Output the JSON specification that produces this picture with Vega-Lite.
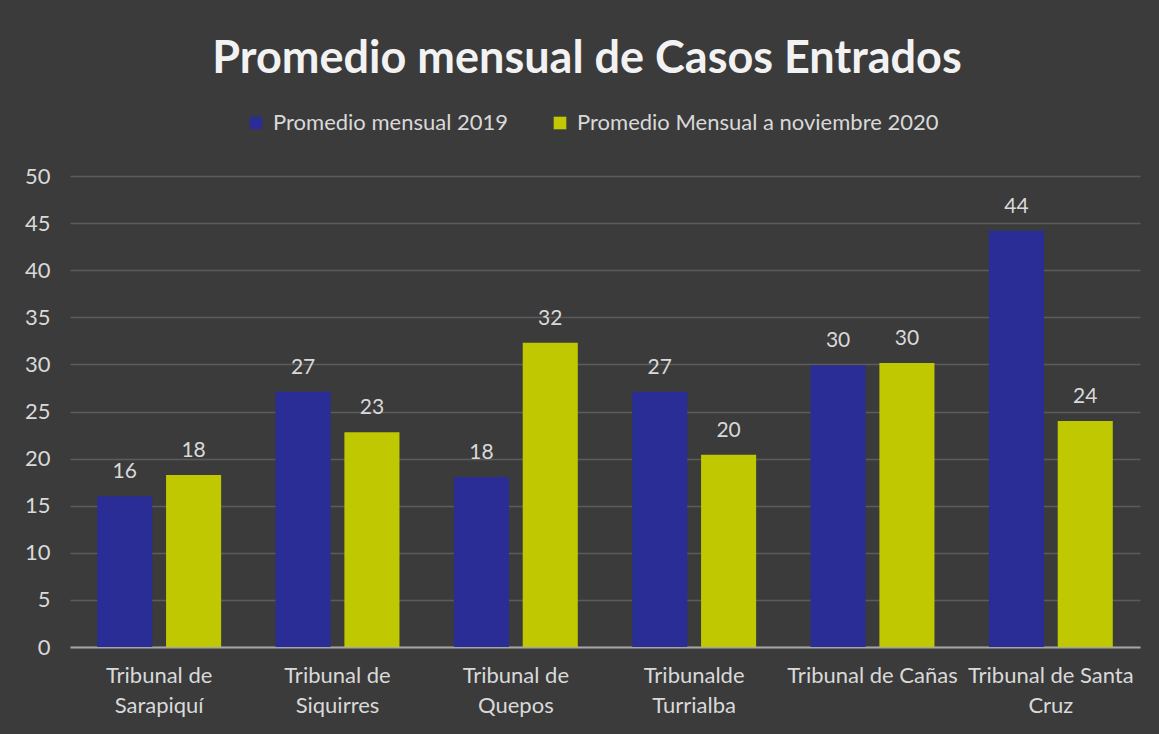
{
  "$schema": "https://vega.github.io/schema/vega-lite/v6.json",
  "width": 1070,
  "height": 471,
  "autosize": {"type": "none"},
  "padding": {"left": 70, "top": 176, "right": 19, "bottom": 87},
  "background": "#3b3b3b",
  "title": {
    "text": "Promedio mensual de Casos Entrados",
    "anchor": "middle",
    "frame": "group",
    "fontSize": 45,
    "font": "Lato",
    "fontWeight": "bold",
    "color": "#f2f2f2",
    "dx": -18,
    "offset": 30
  },
  "data": {
    "values": [
      {"tribunal": "Tribunal de|Sarapiquí", "serie": "Promedio mensual 2019", "valor": 16.0},
      {"tribunal": "Tribunal de|Sarapiquí", "serie": "Promedio Mensual a noviembre 2020", "valor": 18.26},
      {"tribunal": "Tribunal de|Siquirres", "serie": "Promedio mensual 2019", "valor": 27.1},
      {"tribunal": "Tribunal de|Siquirres", "serie": "Promedio Mensual a noviembre 2020", "valor": 22.8},
      {"tribunal": "Tribunal de|Quepos", "serie": "Promedio mensual 2019", "valor": 18.05},
      {"tribunal": "Tribunal de|Quepos", "serie": "Promedio Mensual a noviembre 2020", "valor": 32.3},
      {"tribunal": "Tribunalde|Turrialba", "serie": "Promedio mensual 2019", "valor": 27.1},
      {"tribunal": "Tribunalde|Turrialba", "serie": "Promedio Mensual a noviembre 2020", "valor": 20.4},
      {"tribunal": "Tribunal de Cañas", "serie": "Promedio mensual 2019", "valor": 29.9},
      {"tribunal": "Tribunal de Cañas", "serie": "Promedio Mensual a noviembre 2020", "valor": 30.15},
      {"tribunal": "Tribunal de Santa|Cruz", "serie": "Promedio mensual 2019", "valor": 44.2},
      {"tribunal": "Tribunal de Santa|Cruz", "serie": "Promedio Mensual a noviembre 2020", "valor": 24.0}
    ]
  },
  "encoding": {
    "x": {
      "field": "tribunal",
      "type": "nominal",
      "sort": null,
      "scale": {"paddingInner": 0.305, "paddingOuter": 0.1525},
      "axis": {
        "title": null,
        "labelAngle": 0,
        "labelExpr": "split(datum.label, '|')",
        "labelFont": "Lato",
        "labelFontSize": 22,
        "labelColor": "#d9d9d9",
        "labelLineHeight": 30,
        "labelPadding": 18,
        "labelLimit": 300,
        "ticks": false,
        "domainColor": "#a6a6a6",
        "domainWidth": 2,
        "grid": false
      }
    },
    "xOffset": {
      "field": "serie",
      "type": "nominal",
      "sort": ["Promedio mensual 2019", "Promedio Mensual a noviembre 2020"],
      "scale": {"paddingInner": 0.2, "paddingOuter": 0}
    },
    "y": {
      "field": "valor",
      "type": "quantitative",
      "scale": {"domain": [0, 50], "nice": false},
      "axis": {
        "title": null,
        "values": [0, 5, 10, 15, 20, 25, 30, 35, 40, 45, 50],
        "labelFont": "Lato",
        "labelFontSize": 22,
        "labelColor": "#d9d9d9",
        "labelPadding": 20,
        "ticks": false,
        "domain": false,
        "gridColor": "#5c5c5c",
        "gridWidth": 1.5
      }
    }
  },
  "layer": [
    {
      "mark": {"type": "bar"},
      "encoding": {
        "color": {
          "field": "serie",
          "type": "nominal",
          "sort": ["Promedio mensual 2019", "Promedio Mensual a noviembre 2020"],
          "scale": {"range": ["#2b2d96", "#bfc800"]},
          "legend": {
            "title": null,
            "orient": "none",
            "direction": "horizontal",
            "legendX": 175,
            "legendY": -64,
            "symbolType": "square",
            "symbolSize": 160,
            "symbolStrokeWidth": 0,
            "symbolOpacity": 1,
            "labelFont": "Lato",
            "labelFontSize": 22,
            "labelColor": "#d9d9d9",
            "labelOffset": 6,
            "labelLimit": 400,
            "columnPadding": 40
          }
        }
      }
    },
    {
      "mark": {"type": "text", "baseline": "alphabetic", "dy": -18, "font": "Lato", "fontSize": 21, "color": "#d9d9d9"},
      "encoding": {
        "text": {"field": "valor", "type": "quantitative", "format": ".0f"}
      }
    }
  ],
  "config": {
    "view": {"stroke": null}
  }
}
